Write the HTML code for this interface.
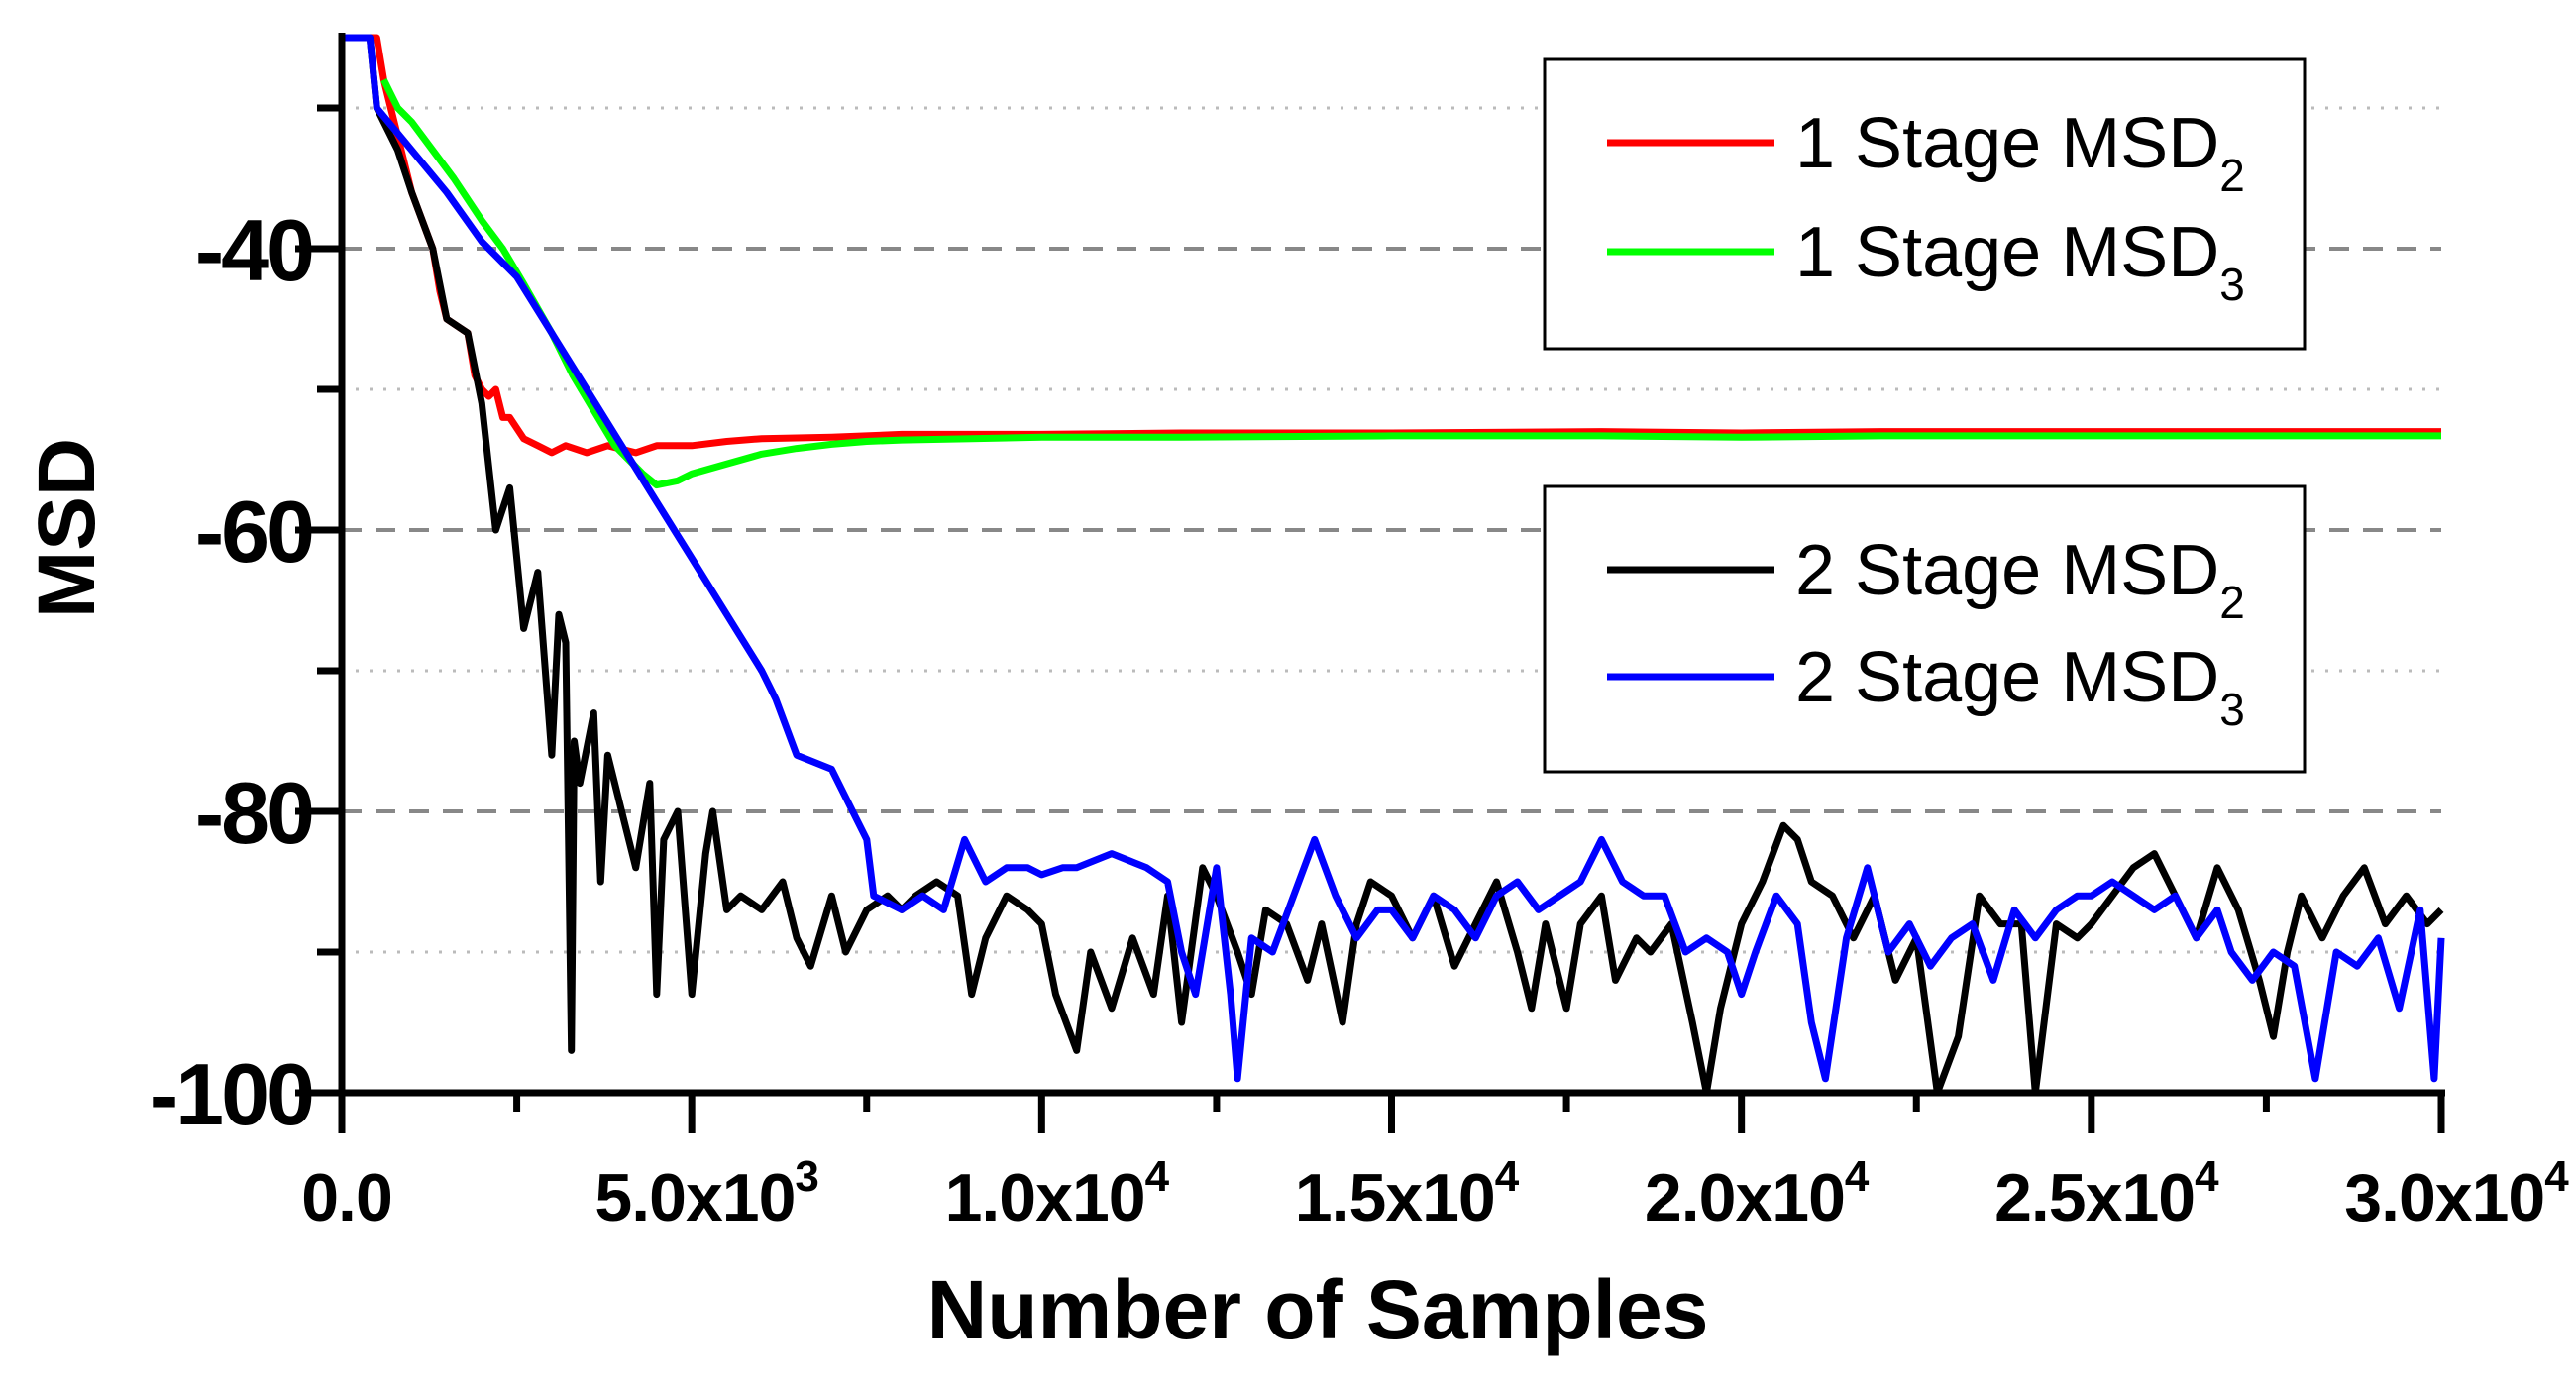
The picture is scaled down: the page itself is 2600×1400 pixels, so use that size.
<!DOCTYPE html>
<html><head><meta charset="utf-8">
<style>
html,body{margin:0;padding:0;background:#fff;}
svg{display:block;font-family:"Liberation Sans",Arial,sans-serif;}
</style></head>
<body>
<svg id="chart" width="2600" height="1400" viewBox="0 0 2600 1400" xmlns="http://www.w3.org/2000/svg">
<g id="grid"></g>
<g id="series"></g>
<g id="axes"></g>
<text x="0" y="0" transform="translate(95,533) rotate(-90)" text-anchor="middle" font-size="82" font-weight="bold">MSD</text>
<text x="1330" y="1351" text-anchor="middle" font-size="84" font-weight="bold">Number of Samples</text>
<g>
<rect x="1559" y="60" width="767" height="292" fill="#fff" stroke="#000" stroke-width="3"/>
<line x1="1622" y1="144" x2="1791" y2="144" stroke="#ff0000" stroke-width="7"/>
<text x="1812" y="169" font-size="72">1 Stage MSD<tspan font-size="46" dy="24">2</tspan></text>
<line x1="1622" y1="254" x2="1791" y2="254" stroke="#00ff00" stroke-width="7"/>
<text x="1812" y="279" font-size="72">1 Stage MSD<tspan font-size="46" dy="24">3</tspan></text>
</g>
<g>
<rect x="1559" y="491" width="767" height="288" fill="#fff" stroke="#000" stroke-width="3"/>
<line x1="1622" y1="575" x2="1791" y2="575" stroke="#000000" stroke-width="7"/>
<text x="1812" y="600" font-size="72">2 Stage MSD<tspan font-size="46" dy="24">2</tspan></text>
<line x1="1622" y1="683" x2="1791" y2="683" stroke="#0000ff" stroke-width="7"/>
<text x="1812" y="708" font-size="72">2 Stage MSD<tspan font-size="46" dy="24">3</tspan></text>
</g>
</svg>
<script>
const xTicks=[0,5000,10000,15000,20000,25000,30000];
const xTickLabels=["0.0","5.0x10|3","1.0x10|4","1.5x10|4","2.0x10|4","2.5x10|4","3.0x10|4"];
const xMinorTicks=[2500,7500,12500,17500,22500,27500];
const yTicks=[-40,-60,-80,-100];
const yTickLabels=["-40","-60","-80","-100"];
const yMinorTicks=[-30,-50,-70,-90];

const redX=[0,500,600,700,850,1000,1150,1300,1400,1500,1650,1800,1900,2000,2100,2200,2300,2400,2600,2800,3000,3200,3500,3800,4200,4500,5000,5500,6000,7000,8000,10000,12000,15000,18000,20000,22000,24000,26000,28000,30000];
const redY=[-25,-25,-28,-30,-33,-36,-38,-40,-43,-45,-45.5,-46,-49,-50,-50.5,-50,-52,-52,-53.5,-54,-54.5,-54,-54.5,-54,-54.5,-54,-54,-53.7,-53.5,-53.4,-53.2,-53.2,-53.1,-53.1,-53,-53.1,-53,-53,-53,-53,-53];
const greenX=[600,800,1000,1300,1600,2000,2300,2600,3000,3300,3600,3900,4100,4300,4500,4800,5000,5500,6000,6500,7000,7500,8000,9000,10000,12000,15000,18000,20000,22000,25000,28000,30000];
const greenY=[-28,-30,-31,-33,-35,-38,-40,-42.5,-46,-49,-51.5,-54,-55,-56,-56.8,-56.5,-56,-55.3,-54.6,-54.2,-53.9,-53.7,-53.6,-53.5,-53.4,-53.4,-53.3,-53.3,-53.4,-53.3,-53.3,-53.3,-53.3];
const blackX=[0,400,500,800,1000,1300,1500,1800,2000,2200,2400,2500,2600,2800,3000,3100,3200,3280,3320,3400,3600,3700,3800,4000,4200,4400,4500,4600,4800,5000,5200,5300,5500,5700,6000,6300,6500,6700,7000,7200,7500,7800,8000,8200,8500,8800,9000,9200,9500,9800,10000,10200,10500,10700,11000,11300,11600,11800,12000,12300,12500,12800,13000,13200,13500,13800,14000,14300,14500,14700,15000,15300,15600,15900,16200,16500,16800,17000,17200,17500,17700,18000,18200,18500,18700,19000,19300,19500,19700,20000,20300,20600,20800,21000,21300,21600,21900,22200,22500,22800,23100,23400,23700,24000,24200,24500,24800,25000,25300,25600,25900,26200,26500,26800,27100,27400,27600,27800,28000,28300,28600,28900,29200,29500,29800,30000];
const blackY=[-25,-25,-30,-33,-36,-40,-45,-46,-51,-60,-57,-62,-67,-63,-76,-66,-68,-97,-75,-78,-73,-85,-76,-80,-84,-78,-93,-82,-80,-93,-83,-80,-87,-86,-87,-85,-89,-91,-86,-90,-87,-86,-87,-86,-85,-86,-93,-89,-86,-87,-88,-93,-97,-90,-94,-89,-93,-86,-95,-84,-86,-90,-93,-87,-88,-92,-88,-95,-88,-85,-86,-89,-86,-91,-88,-85,-90,-94,-88,-94,-88,-86,-92,-89,-90,-88,-95,-100,-94,-88,-85,-81,-82,-85,-86,-89,-86,-92,-89,-100,-96,-86,-88,-88,-100,-88,-89,-88,-86,-84,-83,-86,-89,-84,-87,-92,-96,-90,-86,-89,-86,-84,-88,-86,-88,-87];
const blueX=[0,400,500,1000,1500,2000,2500,3000,3500,4000,4500,5000,5500,6000,6200,6500,7000,7300,7500,7600,8000,8300,8600,8900,9200,9500,9800,10000,10300,10500,11000,11500,11800,12000,12200,12500,12700,12800,13000,13300,13600,13900,14200,14500,14800,15000,15300,15600,15900,16200,16500,16800,17100,17400,17700,18000,18300,18600,18900,19200,19500,19800,20000,20200,20500,20800,21000,21200,21500,21800,22100,22400,22700,23000,23300,23600,23900,24200,24500,24800,25000,25300,25600,25900,26200,26500,26800,27000,27300,27600,27900,28200,28500,28800,29100,29400,29700,29900,30000];
const blueY=[-25,-25,-30,-33,-36,-39.5,-42,-46,-50,-54,-58,-62,-66,-70,-72,-76,-77,-80,-82,-86,-87,-86,-87,-82,-85,-84,-84,-84.5,-84,-84,-83,-84,-85,-90,-93,-84,-93,-99,-89,-90,-86,-82,-86,-89,-87,-87,-89,-86,-87,-89,-86,-85,-87,-86,-85,-82,-85,-86,-86,-90,-89,-90,-93,-90,-86,-88,-95,-99,-89,-84,-90,-88,-91,-89,-88,-92,-87,-89,-87,-86,-86,-85,-86,-87,-86,-89,-87,-90,-92,-90,-91,-99,-90,-91,-89,-94,-87,-99,-89];

const X0=345,X1=2464,YTOP=38,YBOT=1103;
function sx(v){return X0+(v-0)/30000*(X1-X0);}
function sy(v){return YBOT-(v-(-100))/75*(YBOT-YTOP);}
const NS="http://www.w3.org/2000/svg";
function mk(tag,parent){const e=document.createElementNS(NS,tag);parent.appendChild(e);return e;}

const grid=document.getElementById('grid');
yTicks.forEach(v=>{if(v===-100)return;
 const l=mk('line',grid);
 
 
 l.setAttribute('x1',X0);l.setAttribute('x2',X1);l.setAttribute('y1',sy(v));l.setAttribute('y2',sy(v));
 l.setAttribute('stroke','#888');l.setAttribute('stroke-width','4');l.setAttribute('stroke-dasharray','20 14');});
yMinorTicks.forEach(v=>{
 const l=mk('line',grid);
 
 
 l.setAttribute('x1',X0);l.setAttribute('x2',X1);l.setAttribute('y1',sy(v));l.setAttribute('y2',sy(v));
 l.setAttribute('stroke','#bbb');l.setAttribute('stroke-width','3');l.setAttribute('stroke-dasharray','3 11');});

const ser=document.getElementById('series');
function line(xs,ys,color,name){
 const p=mk('polyline',ser);
 
 
 p.setAttribute('points',xs.map((x,i)=>sx(x).toFixed(1)+','+sy(ys[i]).toFixed(1)).join(' '));
 p.setAttribute('fill','none');p.setAttribute('stroke',color);p.setAttribute('stroke-width','7');p.setAttribute('stroke-linejoin','round');
}
line(redX,redY,'#ff0000','series-1stage-msd2');
line(greenX,greenY,'#00ff00','series-1stage-msd3');
line(blackX,blackY,'#000000','series-2stage-msd2');
line(blueX,blueY,'#0000ff','series-2stage-msd3');

const ax=document.getElementById('axes');
let a=mk('line',ax);


a.setAttribute('x1',X0);a.setAttribute('x2',X0);a.setAttribute('y1',33);a.setAttribute('y2',YBOT+4);a.setAttribute('stroke','#000');a.setAttribute('stroke-width','7');
a=mk('line',ax);


a.setAttribute('x1',X0-4);a.setAttribute('x2',X1+4);a.setAttribute('y1',YBOT);a.setAttribute('y2',YBOT);a.setAttribute('stroke','#000');a.setAttribute('stroke-width','7');
yTicks.forEach((v,i)=>{
 const t=mk('line',ax);
 
 
 t.setAttribute('x1',298);t.setAttribute('x2',X0);t.setAttribute('y1',sy(v));t.setAttribute('y2',sy(v));t.setAttribute('stroke','#000');t.setAttribute('stroke-width','7');
 const tx=mk('text',ax);
 
 
 tx.setAttribute('x',315);tx.setAttribute('y',sy(v)+32);tx.setAttribute('text-anchor','end');tx.setAttribute('font-size','88');tx.setAttribute('font-weight','bold');tx.setAttribute('letter-spacing','-3');
 tx.textContent=yTickLabels[i];});
yMinorTicks.forEach(v=>{
 const t=mk('line',ax);
 
 
 t.setAttribute('x1',320);t.setAttribute('x2',X0);t.setAttribute('y1',sy(v));t.setAttribute('y2',sy(v));t.setAttribute('stroke','#000');t.setAttribute('stroke-width','7');});
xTicks.forEach((v,i)=>{
 const t=mk('line',ax);
 
 
 t.setAttribute('x1',sx(v));t.setAttribute('x2',sx(v));t.setAttribute('y1',YBOT);t.setAttribute('y2',1144);t.setAttribute('stroke','#000');t.setAttribute('stroke-width','7');
 const tx=mk('text',ax);
 
 
 tx.setAttribute('y',1232);tx.setAttribute('font-size','68');tx.setAttribute('font-weight','bold');tx.setAttribute('letter-spacing','-1');
 const parts=xTickLabels[i].split('|');
 tx.setAttribute('text-anchor','middle');
 if(parts.length===1){tx.setAttribute('x',sx(v)+5);tx.textContent=parts[0];}
 else{tx.setAttribute('x',sx(v)+15);
  tx.appendChild(document.createTextNode(parts[0]));
  const s=document.createElementNS(NS,'tspan');s.setAttribute('font-size','44');s.setAttribute('dy','-30');s.textContent=parts[1];tx.appendChild(s);}
});
xMinorTicks.forEach(v=>{
 const t=mk('line',ax);
 
 
 t.setAttribute('x1',sx(v));t.setAttribute('x2',sx(v));t.setAttribute('y1',YBOT);t.setAttribute('y2',1122);t.setAttribute('stroke','#000');t.setAttribute('stroke-width','7');});
</script>
</body></html>
